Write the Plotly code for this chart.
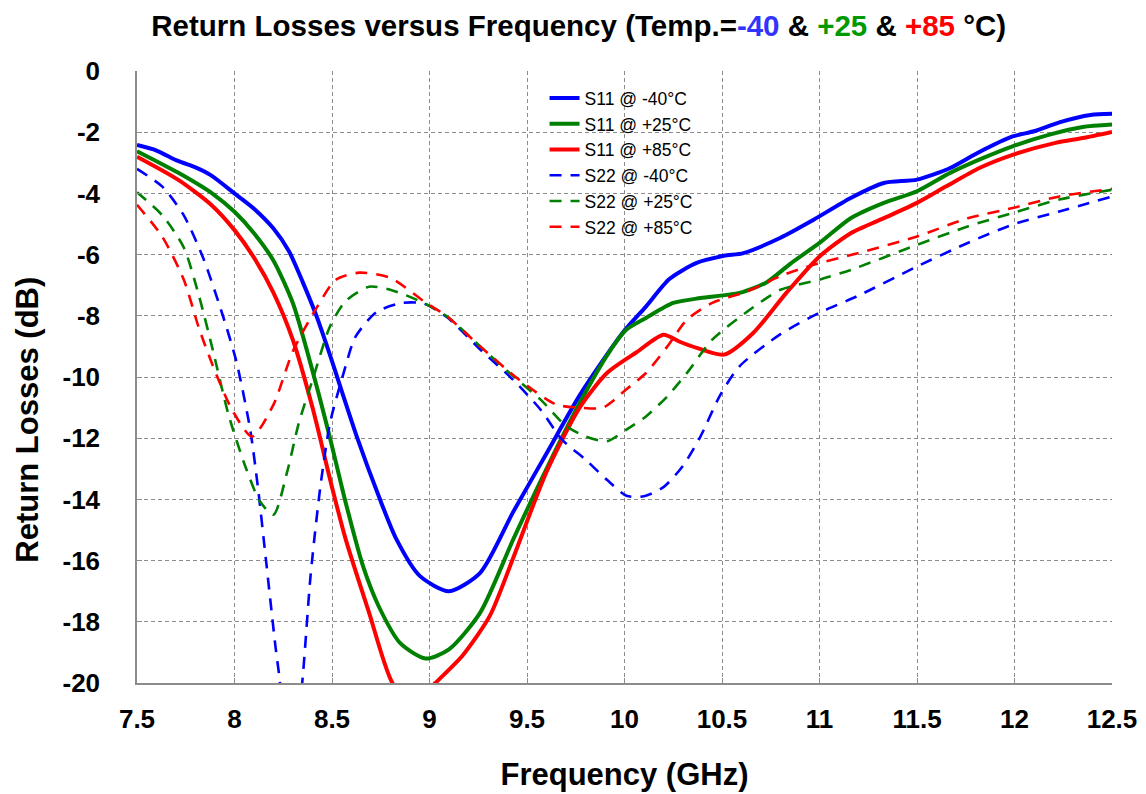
import plotly.graph_objects as go

# ---- S11 (input return loss), solid lines ----
f_s11_m40 = [7.5, 7.6, 7.71, 7.8, 7.88, 8.0, 8.1, 8.2, 8.28, 8.35, 8.42, 8.48, 8.63, 8.74, 8.83, 8.95, 9.1,
             9.26, 9.43, 9.6, 9.77, 9.99, 10.11, 10.23, 10.37, 10.51, 10.61, 10.8, 10.97, 11.16,
             11.33, 11.5, 11.67, 11.81, 11.99, 12.1, 12.23, 12.39, 12.5]
s11_m40 = [-2.42, -2.6, -2.94, -3.15, -3.41, -4.0, -4.5, -5.15, -5.9, -6.9, -8.0, -9.1, -12.0, -13.9,
           -15.3, -16.5, -17.0, -16.4, -14.4, -12.5, -10.6, -8.56, -7.7, -6.8, -6.27, -6.04, -5.95,
           -5.45, -4.86, -4.15, -3.66, -3.55, -3.17, -2.68, -2.14, -1.97, -1.68, -1.44, -1.40]

f_s11_p25 = [7.5, 7.71, 7.89, 8.0, 8.1, 8.2, 8.3, 8.4, 8.49, 8.57, 8.66, 8.74, 8.85, 8.98, 9.1,
             9.26, 9.43, 9.6, 9.77, 9.92, 10.01, 10.11, 10.25, 10.39, 10.59, 10.73, 10.85, 11.0,
             11.16, 11.33, 11.5, 11.67, 11.84, 11.99, 12.18, 12.35, 12.5]
s11_p25 = [-2.62, -3.32, -4.02, -4.6, -5.3, -6.2, -7.6, -9.8, -12.0, -14.1, -16.2, -17.5,
           -18.7, -19.2, -18.9, -17.7, -15.3, -13.0, -10.85, -9.2, -8.45, -8.07, -7.58, -7.42, -7.25,
           -6.9, -6.3, -5.62, -4.81, -4.31, -3.93, -3.33, -2.84, -2.46, -2.08, -1.83, -1.75]

f_s11_p85 = [7.5, 7.71, 7.88, 8.0, 8.1, 8.2, 8.3, 8.4, 8.5, 8.57, 8.69, 8.81, 8.92, 9.03, 9.17,
             9.31, 9.43, 9.6, 9.77, 9.91, 10.06, 10.2, 10.28, 10.37, 10.51, 10.66, 10.83, 11.0, 11.16,
             11.33, 11.5, 11.65, 11.82, 11.99, 12.21, 12.35, 12.5]
s11_p85 = [-2.8, -3.55, -4.37, -5.2, -6.1, -7.25, -8.8, -11.0, -13.6, -15.3, -17.7, -20.0, -20.7,
           -20.0, -19.1, -17.8, -15.9, -13.1, -11.0, -9.87, -9.2, -8.62, -8.84, -9.05, -9.27, -8.56,
           -7.25, -6.06, -5.3, -4.81, -4.31, -3.77, -3.17, -2.74, -2.35, -2.19, -1.99]

# ---- S22 (output return loss), dashed lines ----
f_s22_m40 = [7.5, 7.63, 7.74, 7.84, 7.94, 8.01, 8.08, 8.12, 8.16, 8.21, 8.23, 8.29, 8.35, 8.39, 8.44,
             8.49, 8.56, 8.62, 8.73, 8.86, 8.97, 9.09, 9.26, 9.43, 9.57, 9.68, 9.8, 9.91, 10.01,
             10.1, 10.2, 10.3, 10.39, 10.49, 10.59, 10.8, 11.0, 11.19, 11.5, 11.76, 11.99, 12.23, 12.5]
s22_m40 = [-3.2, -3.78, -4.72, -6.12, -7.99, -9.5, -11.7, -13.6, -15.9, -18.8, -19.8, -23.5, -19.8,
           -16.5, -13.6, -11.5, -9.86, -8.69, -7.87, -7.58, -7.6, -8.05, -9.1, -10.1, -11.07,
           -12.05, -12.7, -13.36, -13.88, -13.9, -13.6, -12.9, -11.94, -10.6, -9.65, -8.6, -7.9,
           -7.37, -6.39, -5.62, -5.02, -4.59, -4.1]

f_s22_p25 = [7.5, 7.63, 7.74, 7.82, 7.89, 7.97, 8.06, 8.13, 8.20, 8.27, 8.33, 8.40, 8.49, 8.57,
             8.69, 8.81, 8.97, 9.09, 9.26, 9.43, 9.57, 9.7, 9.8, 9.91, 10.01, 10.11, 10.22, 10.32,
             10.45, 10.63, 10.8, 11.0, 11.16, 11.5, 11.76, 11.99, 12.23, 12.5]
s22_p25 = [-3.96, -4.72, -5.77, -7.4, -9.15, -11.25, -13.0, -14.06, -14.5, -13.1, -11.5, -10.1,
           -8.34, -7.52, -7.05, -7.17, -7.58, -8.02, -9.0, -9.98, -10.74, -11.6, -11.94, -12.1,
           -11.72, -11.29, -10.63, -9.87, -8.78, -7.86, -7.15, -6.82, -6.5, -5.68, -5.08, -4.64,
           -4.2, -3.88]

f_s22_p85 = [7.5, 7.63, 7.74, 7.82, 7.91, 7.99, 8.09, 8.20, 8.30, 8.42, 8.52, 8.64, 8.80, 8.97,
             9.09, 9.26, 9.46, 9.65, 9.77, 9.89, 10.01, 10.11, 10.22, 10.32, 10.45, 10.63, 10.8,
             10.97, 11.17, 11.5, 11.76, 11.99, 12.23, 12.5]
s22_p85 = [-4.37, -5.42, -6.82, -8.45, -9.97, -11.1, -11.95, -10.9, -9.15, -7.75, -6.82, -6.59,
           -6.76, -7.52, -8.02, -9.0, -10.09, -10.9, -11.0, -11.0, -10.4, -9.87, -9.0, -8.13, -7.58,
           -7.2, -6.7, -6.33, -6.0, -5.41, -4.81, -4.48, -4.1, -3.85]

x_ticks = [7.5, 8, 8.5, 9, 9.5, 10, 10.5, 11, 11.5, 12, 12.5]
x_tick_text = ["7.5", "8", "8.5", "9", "9.5", "10", "10.5", "11", "11.5", "12", "12.5"]
y_ticks = [0, -2, -4, -6, -8, -10, -12, -14, -16, -18, -20]
y_tick_text = ["0", "-2", "-4", "-6", "-8", "-10", "-12", "-14", "-16", "-18", "-20"]

BLUE, GREEN, RED = "#0000FF", "#008000", "#FF0000"
FONT = "Liberation Sans, Arial, sans-serif"

series = [
    ("S11 @ -40°C", f_s11_m40, s11_m40, BLUE, "solid", 4),
    ("S11 @ +25°C", f_s11_p25, s11_p25, GREEN, "solid", 4),
    ("S11 @ +85°C", f_s11_p85, s11_p85, RED, "solid", 4),
    ("S22 @ -40°C", f_s22_m40, s22_m40, BLUE, "12px,9px", 2.6),
    ("S22 @ +25°C", f_s22_p25, s22_p25, GREEN, "12px,9px", 2.6),
    ("S22 @ +85°C", f_s22_p85, s22_p85, RED, "12px,9px", 2.6),
]

fig = go.Figure()
for name, fx, vals, color, dash, width in series:
    fig.add_trace(go.Scatter(
        x=fx, y=vals, name=name, mode="lines",
        line=dict(color=color, dash=dash, width=width, shape="spline", smoothing=0.7),
    ))

title_text = ("<b>Return Losses versus Frequency (Temp.=<span style='color:#3333FF'>-40</span>"
              " &amp; <span style='color:#009900'>+25</span> &amp; "
              "<span style='color:#FF0000'>+85</span> °C)</b>")

grid = dict(showgrid=True, gridcolor="#8c8c8c", gridwidth=1, griddash="4px,3px")

fig.update_layout(
    width=1146, height=794,
    margin=dict(l=137, r=34, t=71, b=111),
    paper_bgcolor="white", plot_bgcolor="white",
    font=dict(family=FONT, color="black"),
    title=dict(text=title_text, x=0.505, xanchor="center", y=0.968, yanchor="middle",
               font=dict(size=29.5, family=FONT, color="black")),
    showlegend=True,
    legend=dict(x=0.418, y=0.985, xanchor="left", yanchor="top",
                bgcolor="rgba(0,0,0,0)", font=dict(size=17.5, family=FONT)),
    xaxis=dict(range=[7.5, 12.5], tickvals=x_ticks, ticktext=x_tick_text,
               showline=True, linecolor="#8c8c8c", linewidth=1.5, mirror=False,
               ticks="inside", ticklen=5, tickcolor="#8c8c8c",
               tickfont=dict(size=26, family=FONT, weight="bold"),
               ticklabelstandoff=12,
               title=dict(text="<b>Frequency (GHz)</b>", font=dict(size=31, family=FONT),
                          standoff=30),
               zeroline=False, automargin=False, **grid),
    yaxis=dict(range=[-20, 0], tickvals=y_ticks, ticktext=y_tick_text,
               showline=True, linecolor="#8c8c8c", linewidth=1.5, mirror=False,
               ticks="inside", ticklen=5, tickcolor="#8c8c8c",
               tickfont=dict(size=26, family=FONT, weight="bold"),
               ticklabelstandoff=30,
               zeroline=False, automargin=False, **grid),
)

# y-axis title, placed slightly below the vertical centre of the plot
fig.add_annotation(text="<b>Return Losses (dB)</b>", textangle=-90,
                   xref="paper", yref="paper", x=-0.112, y=0.43,
                   xanchor="center", yanchor="middle", showarrow=False,
                   font=dict(size=31, family=FONT, color="black"))

fig.write_html("out.html")
